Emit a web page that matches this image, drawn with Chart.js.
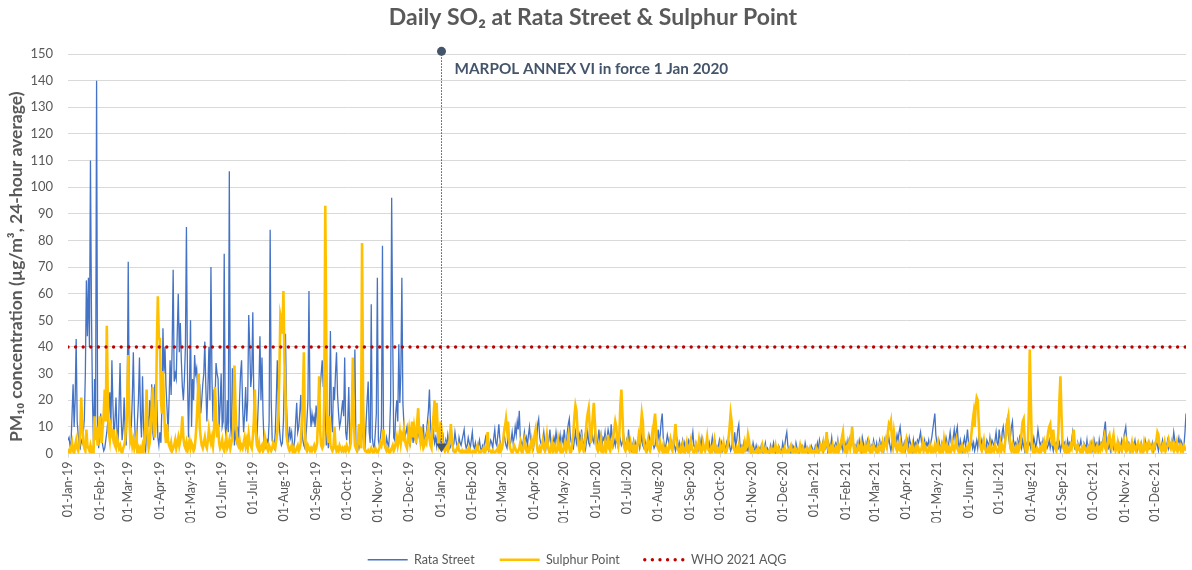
<!DOCTYPE html>
<html><head><meta charset="utf-8">
<script src="https://cdn.jsdelivr.net/npm/chart.js@4.4.1/dist/chart.umd.min.js"></script>
<style>html,body{margin:0;padding:0;background:#fff;}</style>
</head><body>
<canvas id="c" width="1192" height="570"></canvas>
<script>
const monthLabels = ['01-Jan-19','01-Feb-19','01-Mar-19','01-Apr-19','01-May-19','01-Jun-19','01-Jul-19','01-Aug-19','01-Sep-19','01-Oct-19','01-Nov-19','01-Dec-19',
'01-Jan-20','01-Feb-20','01-Mar-20','01-Apr-20','01-May-20','01-Jun-20','01-Jul-20','01-Aug-20','01-Sep-20','01-Oct-20','01-Nov-20','01-Dec-20',
'01-Jan-21','01-Feb-21','01-Mar-21','01-Apr-21','01-May-21','01-Jun-21','01-Jul-21','01-Aug-21','01-Sep-21','01-Oct-21','01-Nov-21','01-Dec-21'];

const rata2019 = [
5,6,3,4,15,26,10,20,43,12,
7,3,2,5,4,8,13,30,65,44,
66,40,110,52,20,3,28,10,140,12,
2,8,15,6,3,1,2,5,8,12,
16,23,10,35,18,6,12,21,8,4,
18,34,14,5,10,21,6,3,20,72,
18,5,10,21,38,15,4,2,12,20,
36,14,6,29,10,3,1,8,14,10,
20,12,26,8,5,26,15,20,6,3,
8,4,18,47,30,40,25,17,8,20,
35,22,40,69,27,30,28,45,60,38,
49,35,25,20,28,40,85,30,6,25,
50,10,28,20,37,30,32,24,18,26,
15,20,26,30,42,25,12,24,40,20,
70,28,12,24,20,34,30,28,10,18,
30,10,12,75,10,5,20,8,106,12,
6,32,18,3,8,5,10,2,20,30,
35,18,8,15,25,12,20,52,40,25,
30,53,20,8,12,5,15,25,44,20,
36,15,4,2,3,5,4,12,84,20,
5,3,2,8,20,35,18,10,5,3,
4,12,30,45,18,8,4,10,6,8,
3,2,5,12,19,8,10,15,22,10,
5,3,2,6,12,20,61,18,10,15,
12,14,10,18,13,16,20,25,30,35,
25,30,15,3,8,2,12,46,15,8,
25,20,30,38,22,15,10,12,16,20,
14,36,8,5,12,25,3,6,15,32,
20,39,3,2,5,2,4,3,6,8,
5,3,12,20,27,8,4,56,6,3,
2,8,15,66,5,3,6,10,78,8,
3,2,6,4,2,8,20,96,45,6,
5,15,20,12,41,19,30,66,19,11,
6,8,10,5,4,3,6,9,4,8,
5,4,7,8,6,10,5,8,11,4,
6,8,12,16,24,11,6,5,8,4,
6,3,8,5,4];

const rata2020 = [
6,3,8,4,2,5,3,7,4,2,
3,6,2,4,8,5,3,2,6,4,
3,5,7,9,4,2,3,6,4,2,
5,8,3,2,4,1,2,3,5,2,
1,3,2,4,6,3,2,1,3,5,
4,2,6,9,4,3,7,11,5,3,
2,4,8,5,3,2,6,4,3,5,
8,4,6,10,7,12,9,16,6,4,
3,5,8,4,6,3,7,10,5,3,
4,2,6,9,5,11,13,6,4,3,
5,8,4,2,6,3,5,9,4,2,
3,6,4,8,5,2,4,7,3,6,
4,9,5,3,8,11,13,6,4,3,
2,5,8,4,6,3,7,5,9,4,
3,6,2,5,8,4,3,7,10,5,
4,8,6,3,5,9,4,7,3,6,
5,8,4,6,9,7,4,11,6,3,
5,3,6,4,2,7,5,3,4,8,
4,2,5,3,9,4,2,1,3,5,
2,4,1,3,6,2,4,7,3,2,
5,3,1,4,7,5,3,8,4,2,
3,6,4,9,5,7,12,15,6,3,
2,4,7,5,3,6,4,2,5,3,
1,3,5,2,4,1,3,5,2,4,
1,3,2,5,4,2,5,8,3,2,
4,2,1,3,5,2,6,4,2,1,
3,5,2,4,1,3,6,2,1,4,
2,1,3,5,2,4,1,2,3,1,
4,2,5,3,1,2,6,4,8,3,
5,9,11,4,2,3,1,4,2,1,
2,1,3,2,0,1,4,2,1,3,
1,0,2,1,3,1,0,2,4,1,
2,1,0,3,1,2,4,1,0,2,
1,3,2,0,1,4,2,3,6,8,
3,1,2,0,1,3,2,1,4,2,
1,0,2,1,3,2,1,4,2,1,
0,2,1,3,2,1];

const rata2021 = [
1,3,2,4,1,5,3,2,4,1,
3,2,5,1,4,2,3,6,2,1,
3,4,2,5,1,3,2,4,1,3,
2,4,1,5,3,6,4,10,5,2,
3,1,4,2,5,3,1,6,4,2,
1,3,5,2,4,1,3,2,5,3,
2,4,1,3,5,2,4,3,1,5,
3,2,4,6,3,1,4,2,5,3,
4,7,5,8,10,6,3,2,4,1,
3,5,2,6,4,3,1,5,2,4,
3,5,4,6,8,4,2,3,5,2,
4,3,5,2,4,6,9,12,15,7,
4,2,5,3,1,4,2,5,3,6,
4,2,5,8,4,3,6,9,5,8,
10,4,2,5,3,1,4,6,3,5,
9,4,2,3,5,2,4,1,3,5,
2,6,4,3,5,2,4,3,1,5,
4,2,6,3,5,4,2,5,8,4,
3,9,5,2,8,10,6,4,11,13,
7,4,6,10,12,5,3,4,2,5,
3,6,4,2,5,3,1,4,2,5,
3,4,2,5,3,6,4,2,5,9,
6,3,4,2,5,3,1,4,2,3,
5,2,4,3,1,5,2,4,3,2,
4,1,3,5,2,4,3,1,5,3,
4,2,5,8,4,2,3,1,4,2,
3,5,2,1,4,3,2,5,1,3,
2,4,1,3,5,2,4,3,1,5,
2,4,3,6,9,12,5,3,2,4,
1,3,5,2,4,1,3,2,4,1,
3,5,2,6,8,10,5,2,4,3,
1,4,2,3,5,2,1,4,3,2,
4,1,3,2,5,3,1,4,2,3,
2,4,1,3,2,5,3,1,4,2,
3,5,2,4,1,3,5,2,4,3,
5,4,8,5,3,2,4,6,3,5,
4,2,3,8,15];

const sulphur2019 = [
0,1,0,2,4,1,0,3,5,2,
1,3,9,21,10,4,2,1,9,3,
2,1,3,1,2,0,14,5,10,3,
6,14,8,4,10,15,24,12,48,20,
8,5,10,8,6,9,3,2,6,4,
2,3,1,0,2,3,5,12,20,37,
15,5,7,3,5,2,4,6,1,2,
0,2,1,3,1,5,12,24,6,2,
4,10,18,25,9,6,12,40,59,43,
43,20,15,31,18,8,4,11,5,3,
2,4,1,2,3,5,2,4,6,3,
5,8,14,6,3,2,4,1,3,5,
2,4,3,1,2,6,12,20,30,10,
6,3,2,4,6,3,2,5,9,6,
4,6,3,8,25,15,6,11,4,2,
3,5,2,1,4,6,2,3,5,2,
4,6,10,33,18,9,4,3,5,2,
3,2,4,6,3,5,2,7,4,3,
2,6,12,24,8,3,2,4,1,2,
3,1,2,6,4,2,1,3,2,1,
2,4,3,2,5,8,15,30,52,50,
45,61,35,22,7,4,2,1,2,3,
1,2,0,1,2,3,1,2,4,12,
20,38,8,2,1,3,2,1,2,1,
2,3,1,2,4,15,29,8,3,2,
3,20,93,40,8,4,14,3,2,1,
2,10,3,1,2,1,3,2,1,2,
1,2,1,3,2,1,2,4,15,36,
12,3,2,1,5,11,4,2,79,20,
2,1,1,0,1,0,1,2,1,0,
1,2,1,0,1,2,4,3,5,9,
4,2,1,2,1,0,1,2,3,1,
2,4,6,3,5,8,4,7,6,9,
5,3,2,6,9,5,8,12,6,10,
7,4,12,17,8,5,10,4,2,3,
5,4,8,10,6,3,2,10,14,20,
8,19,10,4,6];

const sulphur2020 = [
12,8,4,2,1,3,2,1,3,6,
11,5,2,1,0,1,2,3,1,1,
0,1,0,1,1,0,1,0,2,1,
0,0,1,1,0,2,3,1,0,0,
1,1,2,0,1,3,8,2,1,1,
0,1,0,0,1,1,2,0,3,1,
2,4,8,10,13,9,12,5,2,1,
0,1,3,2,1,0,1,2,4,1,
0,2,5,3,1,0,2,1,3,5,
2,4,7,9,4,1,0,2,1,3,
5,2,1,4,7,3,1,0,2,4,
1,3,2,0,1,5,2,1,3,0,
1,2,4,1,3,6,2,0,1,4,
8,14,18,16,9,3,1,2,5,2,
1,3,7,12,15,17,10,4,8,14,
19,12,5,2,1,3,2,5,1,0,
2,4,1,3,7,2,1,4,3,6,
9,12,10,5,3,7,18,24,15,5,
2,1,3,5,2,1,4,2,1,3,
0,2,1,4,7,5,10,15,12,4,
2,1,3,5,2,1,4,7,3,12,
15,9,3,2,1,4,2,1,3,0,
1,2,0,1,3,5,2,1,4,7,
11,5,2,1,0,2,1,3,1,0,
2,4,1,0,3,5,2,1,0,1,
3,1,2,5,2,0,1,4,2,1,
3,6,2,1,0,2,1,3,5,1,
0,2,1,0,3,1,2,4,1,0,
1,3,6,10,15,12,4,2,1,0,
2,1,3,0,1,2,0,1,4,2,
3,7,5,1,0,2,1,0,0,1,
0,2,1,0,1,3,1,0,2,1,
0,0,1,0,2,1,0,1,3,1,
0,2,1,0,0,1,0,2,1,0,
1,0,2,3,1,0,1,2,0,1,
0,1,3,1,0,2,1,0,1,2,
1,0,2,1,0,1];

const sulphur2021 = [
1,0,2,1,0,1,3,2,1,4,
2,3,8,4,1,0,2,1,3,1,
0,2,1,3,1,2,4,6,8,3,
1,2,0,3,4,2,5,10,4,1,
2,0,1,3,2,1,4,2,0,1,
3,1,2,4,1,0,2,1,3,2,
1,0,2,1,3,2,1,4,2,3,
5,3,8,11,10,12,6,3,8,5,
2,1,3,2,4,1,0,2,1,3,
5,2,1,0,2,1,3,1,0,2,
1,3,2,0,1,2,4,1,3,2,
1,0,2,3,1,2,0,1,3,1,
2,4,1,0,2,3,1,5,2,1,
3,1,2,0,1,4,2,1,3,5,
2,1,0,2,1,3,2,0,1,2,
1,3,2,4,8,12,15,10,18,21,
20,12,4,2,1,3,5,2,1,0,
2,1,3,0,1,2,1,3,2,1,
0,2,4,1,3,2,1,5,8,12,
14,8,2,1,3,1,0,2,1,3,
1,2,4,8,12,13,5,1,0,2,
15,39,20,3,1,2,0,1,2,1,
0,2,1,3,2,4,1,3,5,8,
10,11,6,3,9,4,2,1,3,8,
20,29,15,4,2,1,3,1,2,0,
1,3,2,5,9,4,2,1,3,2,
1,0,2,1,3,2,1,0,2,1,
3,1,2,4,1,0,2,3,1,2,
1,3,2,4,6,2,1,3,6,7,
4,2,5,7,3,1,2,4,1,3,
2,1,3,5,2,1,4,2,3,1,
2,4,1,3,2,1,3,4,2,1,
3,2,1,4,2,3,1,2,4,3,
2,1,3,2,4,5,8,7,3,2,
1,3,2,4,1,2,3,5,3,2,
4,2,1,3,2,4,1,2,3,1,
2,1,3,2,1];

const whoAQG = 40;
const marpolDate = '01-Jan-20';
const marpolTopValue = 151;
const marpolText = 'MARPOL ANNEX VI in force 1 Jan 2020';
const yTitle = 'PM₁₀ concentration (µg/m³, 24-hour average)';

const expected = [[rata2019,365],[rata2020,366],[rata2021,365],[sulphur2019,365],[sulphur2020,366],[sulphur2021,365]];
expected.forEach(([a,n],k)=>{ if(a.length!==n) throw new Error('array '+k+' has '+a.length+' expected '+n); });

const MON = ['Jan','Feb','Mar','Apr','May','Jun','Jul','Aug','Sep','Oct','Nov','Dec'];
const T0 = Date.UTC(2019,0,1);
function dayIndex(lbl){ const p = lbl.split('-'); return Math.round((Date.UTC(2000+ +p[2], MON.indexOf(p[1]), +p[0]) - T0)/86400000); }
const monthDays = monthLabels.map(dayIndex);
const marpolDay = dayIndex(marpolDate);

const rataAll = [].concat(rata2019, rata2020, rata2021);
const sulphurAll = [].concat(sulphur2019, sulphur2020, sulphur2021);
const lastDay = rataAll.length - 1;
const toXY = arr => arr.map((v,i)=>({x:i,y:v}));

const GREY = '#595959';
const FAM = "Lato, 'Noto Sans', sans-serif";

const marpolPlugin = {
  id:'marpol',
  afterDatasetsDraw(chart){
    const {ctx} = chart; const x = chart.scales.x, y = chart.scales.y;
    const px = Math.round(x.getPixelForValue(marpolDay)) + 0.5;
    const top = y.getPixelForValue(marpolTopValue);
    const bottom = y.getPixelForValue(0);
    ctx.save();
    ctx.strokeStyle = '#44546a'; ctx.lineWidth = 1; ctx.setLineDash([1.5,1.5]);
    ctx.beginPath(); ctx.moveTo(px, top); ctx.lineTo(px, bottom - 8); ctx.stroke();
    ctx.setLineDash([]);
    ctx.fillStyle = '#44546a';
    ctx.beginPath(); ctx.arc(px, top, 4.5, 0, Math.PI*2); ctx.fill();
    ctx.beginPath(); ctx.moveTo(px-5.5, bottom-10); ctx.lineTo(px+5.5, bottom-10); ctx.lineTo(px, bottom-1); ctx.closePath(); ctx.fill();
    ctx.font = "bold 15.3px " + FAM; ctx.textBaseline = 'middle'; ctx.textAlign = 'left';
    ctx.fillText(marpolText, px + 13, top + 18);
    ctx.restore();
  },
  afterDraw(chart){
    const {ctx} = chart; const area = chart.chartArea;
    ctx.save();
    ctx.translate(16, (area.top + area.bottom)/2 + 13);
    ctx.rotate(-Math.PI/2);
    ctx.font = "bold 17.5px " + FAM; ctx.fillStyle = GREY; ctx.textAlign = 'center'; ctx.textBaseline = 'middle';
    ctx.fillText(yTitle, 0, 0);
    ctx.restore();
  }
};
const legendShift = {
  id:'legendShift',
  afterLayout(chart){ const l = chart.legend; if(l){ l.top += 6; l.bottom += 6; l.left -= 16; l.right -= 16; } }
};

new Chart(document.getElementById('c'), {
  type:'line',
  data:{ datasets:[
    {label:'Rata Street', data:toXY(rataAll), borderColor:'#4472c4', backgroundColor:'#4472c4', borderWidth:1.3, pointRadius:0, order:2},
    {label:'Sulphur Point', data:toXY(sulphurAll), borderColor:'#ffc000', backgroundColor:'#ffc000', borderWidth:2.6, pointRadius:0, order:1},
    {label:'WHO 2021 AQG', data:[{x:0,y:whoAQG},{x:lastDay,y:whoAQG}], borderColor:'#c00000', backgroundColor:'#c00000', borderWidth:3.4, borderDash:[0,7.6], borderCapStyle:'round', pointRadius:0, order:0}
  ]},
  options:{
    responsive:false, animation:false, events:[],
    layout:{padding:{left:0,right:6,top:0,bottom:0}},
    plugins:{
      title:{display:true, text:'Daily SO₂ at Rata Street & Sulphur Point', color:GREY, font:{family:FAM, size:23, weight:'bold'}, padding:{top:4,bottom:22.4}},
      legend:{position:'bottom', labels:{usePointStyle:true, pointStyle:'line', pointStyleWidth:40, color:GREY, font:{family:FAM, size:12.5}, padding:25,
        sort:(a,b)=>a.datasetIndex-b.datasetIndex,
        generateLabels:(chart)=>{
          const items = Chart.defaults.plugins.legend.labels.generateLabels(chart);
          items.forEach(it=>{ const ds = chart.data.datasets[it.datasetIndex]; it.lineDash = ds.borderDash || []; it.lineCap = ds.borderCapStyle || 'butt'; it.lineWidth = ds.borderWidth; it.strokeStyle = ds.borderColor; });
          return items;
        }}},
      tooltip:{enabled:false}
    },
    scales:{
      x:{type:'linear', min:0, max:lastDay,
        afterBuildTicks:s=>{ s.ticks = monthDays.map(v=>({value:v})); },
        ticks:{autoSkip:false, minRotation:90, maxRotation:90, padding:4, color:GREY, font:{family:FAM, size:12.5}, callback:(v,i)=>monthLabels[i]},
        grid:{display:true, drawOnChartArea:false, tickLength:4, color:'#d9d9d9'},
        border:{display:true, color:'#d9d9d9'},
        afterFit:s=>{ const lh = s.chart.legend ? s.chart.legend.height : 0; s.height = s.chart.height - 453.5 - lh; }
      },
      y:{min:0, max:150,
        ticks:{stepSize:10, padding:15, color:GREY, font:{family:FAM, size:13}},
        grid:{color:'#d9d9d9', drawTicks:false},
        border:{display:false},
        afterFit:s=>{ s.width = 68; }
      }
    }
  },
  plugins:[marpolPlugin, legendShift]
});
</script>
</body></html>
